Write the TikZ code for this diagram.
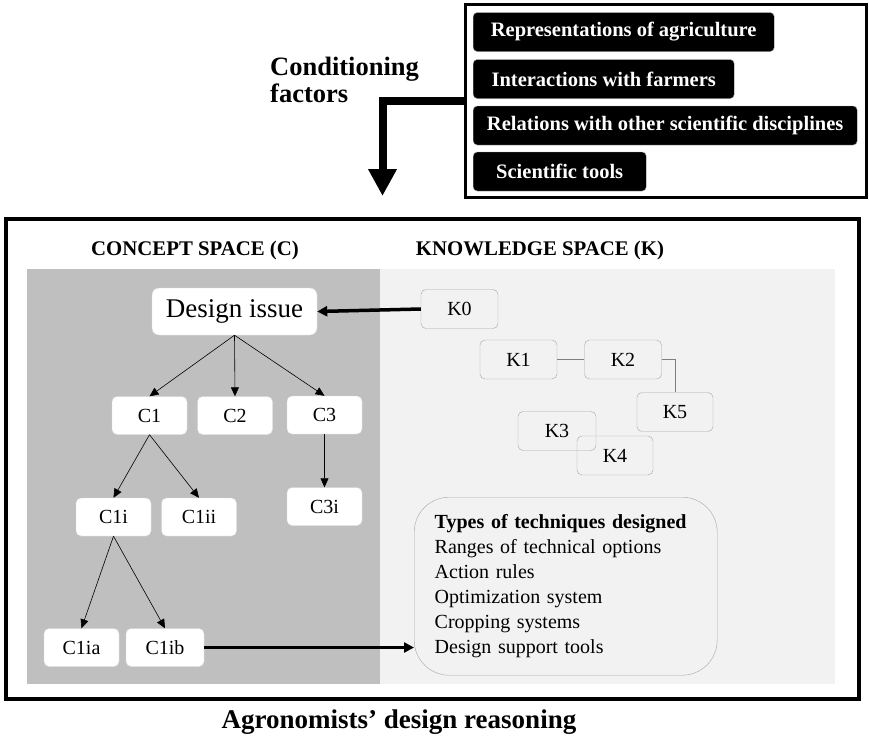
\documentclass[tikz,border=0pt]{standalone}
\usepackage{fontspec}
\setmainfont{Liberation Serif}
\usetikzlibrary{arrows.meta, positioning}
\definecolor{CGray}{HTML}{BFBFBF}
\definecolor{KGray}{HTML}{F2F2F2}
\definecolor{EdgeGray}{HTML}{A6A6A6}
\definecolor{LineGray}{HTML}{7F7F7F}

\tikzset{
  factorbox/.style={fill=black, draw=EdgeGray, rounded corners=4pt, text=white, inner sep=0pt,
    minimum height=39pt, anchor=west, font=\fontsize{20.5}{20.5}\selectfont\bfseries},
  cnode/.style={fill=white, draw=white!85!black, rounded corners=5pt, inner sep=0pt,
    minimum width=75pt, minimum height=38pt, font=\fontsize{20}{20}\selectfont},
  knode/.style={draw=EdgeGray, rounded corners=5pt, inner sep=0pt,
    minimum width=77pt, minimum height=39pt, font=\fontsize{20}{20}\selectfont},
  spacehead/.style={font=\fontsize{20.8}{20.8}\selectfont\bfseries},
  treearrow/.style={-{Triangle[length=9pt,width=8pt]}, line width=0.6pt},
  boldarrow/.style={-{Triangle[length=10pt,width=10pt]}, line width=3.5pt},
  klink/.style={LineGray, line width=0.8pt}
}

\begin{document}
\begin{tikzpicture}[x=1pt, y=-1pt]
\useasboundingbox (0,0) rectangle (869,742);

% conditioning factors
\node[draw, line width=3pt, minimum width=401pt, minimum height=193pt, inner sep=0pt] (factors) at (665.5,100.5) {};
\node[factorbox, minimum width=301pt] (f1) at (473,32) {Representations of agriculture};
\node[factorbox, minimum width=261pt] (f2) at (473,79) {Interactions with farmers};
\node[factorbox, minimum width=384pt] (f3) at (473,125.5) {Relations with other scientific disciplines};
\node[factorbox, minimum width=173pt] (f4) at (473,171.5) {Scientific tools};
\node[anchor=north west, align=left, inner sep=0pt, font=\fontsize{26.5}{27}\selectfont\bfseries] (condlabel) at (270,57) {Conditioning\\factors};
\coordinate (condtip) at (382.5,196);
\draw[line width=8pt, -{Triangle[length=27pt,width=27pt]}] (factors.west) -| (condtip);

% design reasoning frame
\draw[line width=4pt] (5.5,219) rectangle (859,699);
\fill[CGray] (27,269) rectangle (380,684);
\fill[KGray] (380,269) rectangle (835,684);
\node[spacehead] (chead) at (195,250) {CONCEPT SPACE (C)};
\node[spacehead] (khead) at (540,250) {KNOWLEDGE SPACE (K)};

% concept space
\node[cnode, minimum width=165pt, minimum height=47pt, rounded corners=7pt, font=\fontsize{27}{27}\selectfont] (issue) at (234.5,311.5) {Design issue};
\node[cnode] (c1) at (149.5,415.5) {C1};
\node[cnode] (c2) at (235,415.5) {C2};
\node[cnode] (c3) at (324.5,415) {C3};
\node[cnode] (c3i) at (324.5,506.5) {C3i};
\node[cnode] (c1i) at (113.5,517) {C1i};
\node[cnode] (c1ii) at (199,517) {C1ii};
\node[cnode] (c1ia) at (81.5,647.5) {C1ia};
\node[cnode, minimum width=78pt] (c1ib) at (165,647.5) {C1ib};
\foreach \child in {c1,c2,c3}
  \draw[treearrow] (issue.south) -- (\child.north);
\draw[treearrow] (c1.south) -- (c1i.north);
\draw[treearrow] (c1.south) -- (c1ii.north);
\draw[treearrow] (c3.south) -- (c3i.north);
\draw[treearrow] (c1i.south) -- (c1ia.north);
\draw[treearrow] (c1i.south) -- (c1ib.north);

% knowledge space
\node[knode] (k0) at (459.5,309) {K0};
\node[knode] (k1) at (518.5,359.5) {K1};
\node[knode] (k2) at (623,359.5) {K2};
\node[knode, minimum width=76pt] (k5) at (675,412) {K5};
\node[knode, minimum width=78pt] (k3) at (557,431) {K3};
\node[knode, minimum width=76pt] (k4) at (615,455.5) {K4};
\draw[klink] (k1) -- (k2);
\draw[klink] (k2.east) -| (k5.north);
\node[draw=EdgeGray, rounded corners=35pt, minimum width=303pt, minimum height=178pt,
  text width=262pt, inner xsep=20pt, align=left, anchor=north west,
  font=\fontsize{20}{25}\selectfont] (types) at (414,497)
  {\textbf{Types of techniques designed}\\Ranges of technical options\\Action rules\\Optimization system\\Cropping systems\\Design support tools};

\draw[boldarrow] (k0.west) -- (issue.east);
\draw[boldarrow] (c1ib.east) -- (c1ib.east -| types.west);

\node[font=\fontsize{27}{27}\selectfont\bfseries] (title) at (399,722) {Agronomists’ design reasoning};
\end{tikzpicture}
\end{document}
